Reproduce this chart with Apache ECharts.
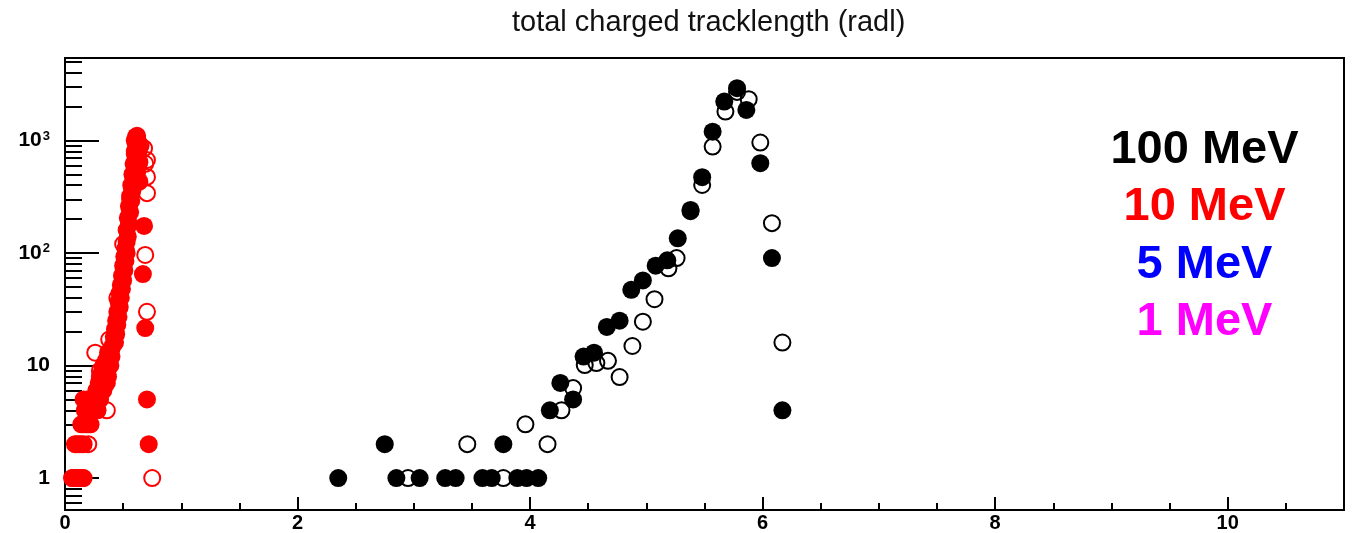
<!DOCTYPE html>
<html>
<head>
<meta charset="utf-8">
<script src="https://cdn.jsdelivr.net/npm/echarts@6/dist/echarts.min.js"></script>
<style>html,body{margin:0;padding:0;background:#fff}#c{width:1355px;height:533px}</style>
</head>
<body>
<div id="c"></div>
<script>
// ---- data ----
const titleText = 'total charged tracklength (radl)';
const legendLabels = ['100 MeV', '10 MeV', '5 MeV', '1 MeV'];
const legendColors = ['#000000', '#ff0000', '#0000ff', '#ff00ff'];

const xMajorTicks = [0, 2, 4, 6, 8, 10];
const xMinorTicks = [0.5, 1, 1.5, 2.5, 3, 3.5, 4.5, 5, 5.5, 6.5, 7, 7.5, 8.5, 9, 9.5, 10.5];
const yMajorTicks = [1, 10, 100, 1000];
const yTickBase = ['1', '10', '10', '10'];
const yTickExp = ['', '', '2', '3'];
const yMinorTicks = [0.6, 0.7, 0.8, 0.9, 2, 3, 4, 5, 6, 7, 8, 9, 20, 30, 40, 50, 60, 70, 80, 90,
  200, 300, 400, 500, 600, 700, 800, 900, 2000, 3000, 4000, 5000];

// 100 MeV, filled markers
const black100Filled = [
  [2.35, 1], [2.75, 2], [2.85, 1], [3.05, 1], [3.27, 1], [3.36, 1], [3.59, 1], [3.67, 1],
  [3.77, 2], [3.89, 1], [3.97, 1], [4.07, 1], [4.17, 4], [4.26, 7], [4.37, 5], [4.46, 12],
  [4.55, 13], [4.66, 22], [4.77, 25], [4.87, 47], [4.97, 57], [5.08, 77], [5.18, 86],
  [5.27, 135], [5.38, 241], [5.48, 471], [5.57, 1197], [5.67, 2213], [5.78, 2911],
  [5.86, 1866], [5.98, 627], [6.08, 90], [6.17, 4]
];
// 100 MeV, open markers
const black100Open = [
  [2.95, 1], [3.46, 2], [3.77, 1], [3.96, 3], [4.15, 2], [4.27, 4], [4.37, 6.3], [4.47, 10.1],
  [4.57, 10.5], [4.67, 11], [4.77, 7.9], [4.88, 14.9], [4.97, 24.5], [5.07, 38.8], [5.19, 73],
  [5.26, 90], [5.38, 235], [5.48, 402], [5.57, 881], [5.68, 1803], [5.78, 2700], [5.88, 2323],
  [5.98, 957], [6.08, 184], [6.17, 16]
];
// 10 MeV, filled markers
const red10Filled = [
  [0.06, 1], [0.08, 1], [0.10, 1], [0.12, 1], [0.14, 1], [0.16, 1],
  [0.10, 2], [0.12, 2], [0.14, 2], [0.16, 2],
  [0.14, 3], [0.16, 3], [0.18, 3], [0.20, 3], [0.22, 3],
  [0.17, 4], [0.20, 4], [0.24, 4], [0.28, 4],
  [0.16, 5], [0.19, 5], [0.22, 5], [0.26, 5], [0.30, 5],
  [0.27, 6], [0.31, 6], [0.33, 6], [0.29, 7], [0.33, 7], [0.36, 7],
  [0.30, 8], [0.34, 8], [0.37, 8], [0.32, 9], [0.36, 9],
  [0.33, 10], [0.36, 10], [0.39, 10], [0.35, 11], [0.38, 12], [0.40, 12], [0.37, 13], [0.40, 14],
  [0.41, 15], [0.43, 16], [0.42, 18], [0.44, 19], [0.43, 21], [0.45, 23], [0.44, 25], [0.46, 27],
  [0.45, 30], [0.47, 33], [0.46, 37], [0.48, 40], [0.47, 44], [0.49, 48], [0.48, 52], [0.50, 57],
  [0.49, 63], [0.51, 70], [0.50, 77], [0.52, 85], [0.51, 93], [0.53, 100], [0.52, 110],
  [0.53, 125], [0.54, 140], [0.53, 160], [0.55, 180], [0.54, 205], [0.56, 230], [0.55, 260],
  [0.57, 290], [0.56, 320], [0.58, 360], [0.57, 400], [0.59, 450], [0.58, 500], [0.60, 560],
  [0.59, 620], [0.61, 690], [0.60, 760], [0.62, 840], [0.61, 920], [0.60, 1000], [0.62, 1050],
  [0.61, 1080], [0.63, 960], [0.64, 880], [0.63, 760], [0.64, 640], [0.62, 520], [0.64, 430],
  [0.68, 174], [0.67, 65], [0.69, 21.5], [0.705, 5], [0.72, 2]
];
// 10 MeV, open markers
const red10Open = [
  [0.07, 1], [0.15, 1], [0.75, 1], [0.086, 2], [0.20, 2], [0.30, 5], [0.36, 4], [0.30, 9],
  [0.26, 13], [0.38, 17], [0.45, 40], [0.50, 120], [0.56, 300], [0.60, 800], [0.62, 1100],
  [0.65, 900], [0.68, 850], [0.69, 620], [0.705, 670], [0.705, 474], [0.705, 340],
  [0.69, 96], [0.705, 30]
];

// ---- chart ----
const FONT = '"Liberation Sans", Arial, Helvetica, sans-serif';
const chart = echarts.init(document.getElementById('c'), null, {renderer: 'canvas'});

const yMin = 0.52, yMax = 5400;
const tickStyle = {color: '#000', width: 2};

function scatter(name, data, color, filled) {
  return {
    name: name, type: 'scatter', data: data, xAxisIndex: 0, yAxisIndex: 0,
    symbol: 'circle', symbolSize: filled ? 18 : 16,
    itemStyle: filled
      ? {color: color, borderColor: color, borderWidth: 0, opacity: 1}
      : {color: 'rgba(255,255,255,0)', borderColor: color, borderWidth: 2, opacity: 1},
    emphasis: {disabled: true},
    silent: true,
    clip: false,
    z: 2
  };
}

chart.setOption({
  animation: false,
  backgroundColor: '#fff',
  title: {
    text: titleText,
    left: 512, top: 8, padding: 0,
    textStyle: {fontFamily: FONT, fontSize: 29, fontWeight: 'normal', color: '#111'}
  },
  grid: {
    left: 65, top: 58, width: 1279, height: 452,
    show: true, borderColor: '#000', borderWidth: 2, backgroundColor: 'transparent'
  },
  xAxis: [
    {
      type: 'value', min: 0, max: 11, position: 'bottom',
      axisLine: {show: true, onZero: false, lineStyle: tickStyle},
      axisTick: {show: true, inside: true, length: 13, lineStyle: tickStyle, customValues: xMajorTicks},
      axisLabel: {show: true, margin: 3, customValues: xMajorTicks,
        fontFamily: FONT, fontSize: 20, fontWeight: 'bold', color: '#000'},
      splitLine: {show: false}
    },
    {
      type: 'value', min: 0, max: 11, position: 'bottom',
      axisLine: {show: false},
      axisTick: {show: true, inside: true, length: 7, lineStyle: tickStyle, customValues: xMinorTicks},
      axisLabel: {show: false},
      splitLine: {show: false}
    }
  ],
  yAxis: [
    {
      type: 'log', min: yMin, max: yMax, position: 'left',
      axisLine: {show: true, onZero: false, lineStyle: tickStyle},
      axisTick: {show: true, inside: true, length: 34, lineStyle: tickStyle, customValues: yMajorTicks},
      axisLabel: {show: true, margin: 15, customValues: yMajorTicks,
        formatter: function (v) {
          const i = yMajorTicks.findIndex(t => Math.abs(t - v) / t < 1e-6);
          if (i < 0) return '';
          return '{b|' + yTickBase[i] + '}' + (yTickExp[i] ? '{s|' + yTickExp[i] + '}' : '');
        },
        rich: {
          b: {fontFamily: FONT, fontSize: 21, fontWeight: 'bold', color: '#000', lineHeight: 22},
          s: {fontFamily: FONT, fontSize: 13, fontWeight: 'bold', color: '#000', lineHeight: 13,
            verticalAlign: 'top', padding: [0, 0, 0, 1]}
        },
        fontFamily: FONT, fontSize: 21, fontWeight: 'bold', color: '#000'},
      splitLine: {show: false}
    },
    {
      type: 'log', min: yMin, max: yMax, position: 'left',
      axisLine: {show: false},
      axisTick: {show: true, inside: true, length: 17, lineStyle: tickStyle, customValues: yMinorTicks},
      axisLabel: {show: false},
      splitLine: {show: false}
    }
  ],
  series: [
    scatter('100 MeV open', black100Open, '#000', false),
    scatter('100 MeV filled', black100Filled, '#000', true),
    scatter('10 MeV open', red10Open, '#ff0000', false),
    scatter('10 MeV filled', red10Filled, '#ff0000', true)
  ],
  graphic: legendLabels.map(function (t, i) {
    return {
      type: 'text', x: 1204.5, y: 150 + i * 57.3, silent: true,
      style: {text: t, fill: legendColors[i], textAlign: 'center', textVerticalAlign: 'middle',
        font: 'bold 47px ' + FONT}
    };
  })
});
</script>
</body>
</html>
